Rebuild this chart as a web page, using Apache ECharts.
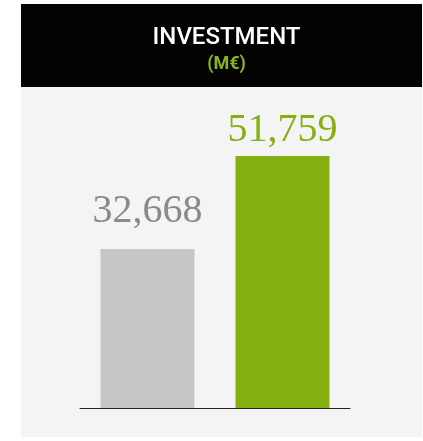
<!DOCTYPE html>
<html>
<head>
<meta charset="utf-8">
<script src="https://cdn.jsdelivr.net/npm/echarts@6/dist/echarts.min.js"></script>
<style>html,body{margin:0;padding:0;background:#fff;}#c{width:423px;height:441px;}</style>
</head>
<body>
<div id="c"></div>
<script>
const categories = ['Previous', 'Current'];
const values = [32668, 51759];
const barColors = ['#c6c6c6', '#86af12'];
const labelColors = ['#8a8a8a', '#86af12'];
const labelGaps = [17, 6];

const chart = echarts.init(document.getElementById('c'));
chart.setOption({
  animation: false,
  backgroundColor: '#ffffff',
  graphic: [
    { type: 'rect', z: -10, shape: { x: 21, y: 87, width: 401, height: 350 }, style: { fill: '#f4f4f4' } },
    { type: 'rect', z: -10, shape: { x: 21, y: 4, width: 401, height: 83 }, style: { fill: '#030303' } }
  ],
  title: {
    text: 'INVESTMENT',
    subtext: '(M€)',
    left: 221.5,
    textAlign: 'center',
    top: 21,
    itemGap: 5,
    textStyle: { color: '#ffffff', fontFamily: 'Roboto', fontWeight: 500, fontSize: 24 },
    subtextStyle: { color: '#8db51b', fontFamily: 'Roboto', fontWeight: 'bold', fontSize: 18 }
  },
  grid: { left: 80, width: 270, top: 156, height: 252, containLabel: false },
  xAxis: {
    type: 'category',
    data: categories,
    axisLine: { show: true, lineStyle: { color: '#222222', width: 1 } },
    axisTick: { show: false },
    axisLabel: { show: false }
  },
  yAxis: {
    type: 'value',
    min: 0,
    max: 51759,
    show: false,
    splitLine: { show: false }
  },
  series: [{
    type: 'bar',
    barWidth: 94,
    data: values.map((v, i) => ({
      value: v,
      itemStyle: { color: barColors[i] },
      label: {
        show: true,
        position: 'top',
        distance: labelGaps[i],
        color: labelColors[i],
        fontFamily: 'Liberation Serif',
        fontSize: 40,
        formatter: (p) => p.value.toLocaleString('en-US')
      }
    }))
  }]
});
</script>
</body>
</html>
